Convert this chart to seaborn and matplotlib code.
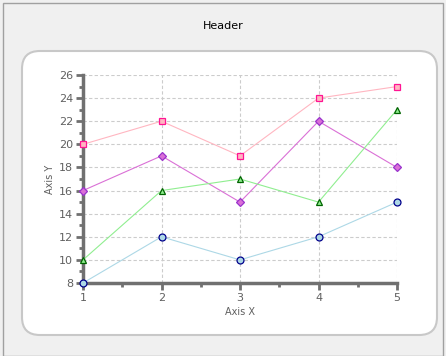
import matplotlib
matplotlib.use("Agg")
import matplotlib.pyplot as plt
import seaborn as sns
import pandas as pd
from matplotlib.patches import FancyBboxPatch, Rectangle
from matplotlib.ticker import MultipleLocator

# data
x_vals = [1, 2, 3, 4, 5]
pink_sq = [20, 22, 19, 24, 25]
violet_dia = [16, 19, 15, 22, 18]
green_tri = [10, 16, 17, 15, 23]
blue_circ = [8, 12, 10, 12, 15]

series = [
    ("squares", pink_sq, "s", "#FFB6C1", "#FFB6C1", "#FF1493", 5),
    ("diamonds", violet_dia, "D", "#DA70D6", "#DA70D6", "#9932CC", 4),
    ("triangles", green_tri, "^", "#90EE90", "#90EE90", "#006400", 5),
    ("circles", blue_circ, "o", "#ADD8E6", "#ADD8E6", "#00008B", 5),
]

sns.set_style("white")
plt.rcParams["font.family"] = ["DejaVu Sans"]

fig = plt.figure(figsize=(4.46, 3.56), dpi=100)
fig.patch.set_facecolor("#F0F0F0")

# window-like border and white rounded panel (behind the axes)
fig.patches.append(Rectangle((3 / 446, 0), 440 / 446, 353 / 356, transform=fig.transFigure,
                             fill=False, edgecolor="#A0A0A0", linewidth=1, zorder=-2))
fig.patches.append(FancyBboxPatch((22 / 446, 21 / 356), 415 / 446, 284 / 356,
                                  boxstyle="round,pad=0,rounding_size=0.04",
                                  transform=fig.transFigure, facecolor="white",
                                  edgecolor="#C8C8C8", linewidth=1.5,
                                  mutation_aspect=446 / 356, zorder=-2))
fig.text(223 / 446, 1 - 26 / 356, "Header", ha="center", va="center", fontsize=8, color="black")

ax = fig.add_axes([83 / 446, 73 / 356, 314 / 446, 208 / 356])
ax.set_facecolor("none")

for name, vals, mk, lc, fc, ec, ms in series:
    df = pd.DataFrame({"x": x_vals, "y": vals})
    sns.lineplot(data=df, x="x", y="y", ax=ax, color=lc, linewidth=0.8, marker=mk,
                 markersize=ms, markerfacecolor=fc, markeredgecolor=ec, markeredgewidth=0.9,
                 clip_on=False, zorder=3)

ax.set_xlim(1, 5)
ax.set_ylim(8, 26)
ax.xaxis.set_major_locator(MultipleLocator(1))
ax.xaxis.set_minor_locator(MultipleLocator(0.5))
ax.yaxis.set_major_locator(MultipleLocator(2))
ax.yaxis.set_minor_locator(MultipleLocator(1))
ax.grid(True, which="major", color="#CCCCCC", linestyle=(0, (3, 2)), linewidth=0.8)
for s in ["top", "right"]:
    ax.spines[s].set_visible(False)
for s in ["left", "bottom"]:
    ax.spines[s].set_color("#707070")
    ax.spines[s].set_linewidth(2.5)
ax.tick_params(which="major", direction="out", length=5, width=2, color="#707070",
               labelsize=8, labelcolor="#606060", pad=2, left=True, bottom=True)
ax.tick_params(which="minor", direction="out", length=3, width=2, color="#707070",
               left=True, bottom=True)
ax.set_xlabel("Axis X", fontsize=7, color="#606060", labelpad=3)
ax.set_ylabel("Axis Y", fontsize=7, color="#606060", labelpad=3)

fig.savefig("out.png", dpi=100, facecolor=fig.get_facecolor())
